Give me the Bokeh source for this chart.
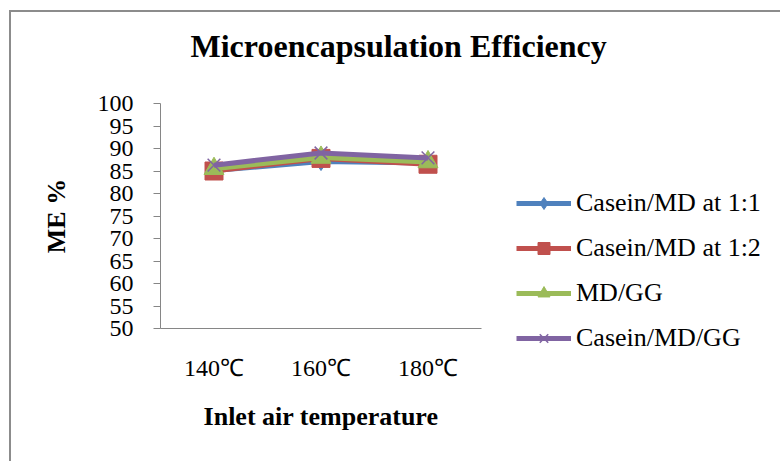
from bokeh.plotting import figure
from bokeh.models import Legend, LegendItem, FactorRange, Range1d, FixedTicker, Title
from bokeh.embed import file_html
from bokeh.resources import INLINE

temps = ["140℃", "160℃", "180℃"]
casein_md_11 = [85.1, 87.1, 86.8]
casein_md_12 = [85.0, 87.8, 86.5]
md_gg = [85.5, 88.0, 87.0]
casein_md_gg = [86.3, 89.0, 87.9]
y_ticks = [50, 55, 60, 65, 70, 75, 80, 85, 90, 95, 100]

FONT = "Liberation Serif"

p = figure(frame_width=321, frame_height=225, x_range=FactorRange(*temps), y_range=Range1d(50, 100),
           output_backend="svg", toolbar_location=None,
           min_border_left=149, min_border_right=0, min_border_top=91, min_border_bottom=134)
p.margin = (10, 0, 0, 9)
p.styles = {"border-top": "2px solid #8c8c8c", "border-left": "2px solid #8c8c8c"}
p.outline_line_color = None
p.xgrid.grid_line_color = None
p.ygrid.grid_line_color = None

p.title.text = "Microencapsulation Efficiency"
p.title.align = "left"
p.title.offset = 30
p.title.standoff = 10
p.title.text_font = FONT
p.title.text_font_size = "32px"
p.title.text_font_style = "bold"
p.title.text_color = "black"
# empty spacer between the title and the plot area
p.add_layout(Title(text=" ", text_font_size="10px", standoff=22), "above")

p.yaxis.ticker = FixedTicker(ticks=y_ticks)
p.yaxis.minor_tick_line_color = None
p.yaxis.major_tick_in = 0
p.yaxis.major_tick_out = 7
p.yaxis.major_label_standoff = 20
p.yaxis.axis_line_color = "#868686"
p.yaxis.major_tick_line_color = "#868686"
p.yaxis.major_label_text_font = FONT
p.yaxis.major_label_text_font_size = "24px"
p.yaxis.major_label_text_color = "black"
p.yaxis.axis_label = "ME %"
p.yaxis.axis_label_text_font = FONT
p.yaxis.axis_label_text_font_size = "26px"
p.yaxis.axis_label_text_font_style = "bold"
p.yaxis.axis_label_text_color = "black"
p.yaxis.axis_label_standoff = 24

p.xaxis.major_tick_line_color = None
p.xaxis.minor_tick_line_color = None
p.xaxis.axis_line_color = "#868686"
p.xaxis.major_label_standoff = 20
p.xaxis.major_label_text_font = FONT
p.xaxis.major_label_text_font_size = "24px"
p.xaxis.major_label_text_color = "black"
p.xaxis.axis_label = "Inlet air temperature"
p.xaxis.axis_label_text_font = FONT
p.xaxis.axis_label_text_font_size = "26px"
p.xaxis.axis_label_text_font_style = "bold"
p.xaxis.axis_label_text_color = "black"
p.xaxis.axis_label_standoff = 18

series = [
    ("Casein/MD at 1:1", casein_md_11, "#4F81BD", "diamond", 18),
    ("Casein/MD at 1:2", casein_md_12, "#C0504D", "square", 18),
    ("MD/GG", md_gg, "#9BBB59", "triangle", 20),
    ("Casein/MD/GG", casein_md_gg, "#8064A2", "x", 18),
]
items = []
for name, vals, col, mk, sz in series:
    lr = p.line(temps, vals, line_color=col, line_width=5)
    if mk == "x":
        sr = p.scatter(temps, vals, marker=mk, size=sz, line_color=col, line_width=1.5)
    else:
        sr = p.scatter(temps, vals, marker=mk, size=sz, fill_color=col, line_color=col)
    items.append(LegendItem(label=name, renderers=[lr, sr]))

legend = Legend(items=items, location=(35, -25), glyph_width=55, glyph_height=30,
                label_height=30, spacing=15, padding=0, margin=15, label_standoff=5,
                label_text_font=FONT, label_text_font_size="26px", label_text_color="black",
                border_line_color=None, background_fill_alpha=0)
p.add_layout(legend, "right")

open("out.html", "w").write(file_html(p, INLINE))
